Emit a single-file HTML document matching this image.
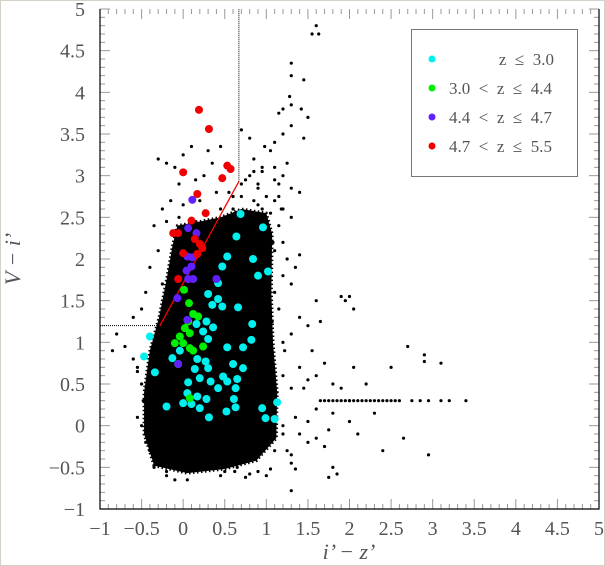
<!DOCTYPE html>
<html><head><meta charset="utf-8"><style>
html,body{margin:0;padding:0;background:#fff}
#wrap{width:603px;height:564px;border:1px solid #d4d0c8;position:relative;overflow:hidden;background:#fff}
text{font-family:"Liberation Serif",serif;fill:#555}
</style></head><body>
<div id="wrap">
<svg id="chart" width="605" height="566"></svg>
</div>
<script>
// ---- data ----
const blobOutline = [[-0.32,-0.4],[-0.42,-0.1],[-0.43,0.3],[-0.36,0.8],[-0.26,1.2],[-0.17,1.5],[-0.1,1.9],[0.0,2.25],[0.3,2.3],[0.5,2.42],[0.75,2.48],[0.98,2.4],[1.02,1.9],[0.99,1.3],[1.03,0.8],[1.06,0.3],[1.03,-0.1],[0.8,-0.35],[0.5,-0.45],[0.1,-0.5]];
const haloOutline = [[-0.35,-0.48],[-0.47,-0.1],[-0.47,0.4],[-0.4,0.9],[-0.29,1.3],[-0.2,1.75],[-0.13,2.15],[-0.07,2.4],[0.2,2.45],[0.45,2.5],[0.7,2.6],[1.0,2.55],[1.07,2.3],[1.06,1.6],[1.08,1.0],[1.13,0.4],[1.12,-0.15],[0.88,-0.42],[0.5,-0.52],[0.05,-0.57]];
const blackX = [1.6,1.55,1.63,1.3,1.3,1.45,1.28,1.3,1.2,1.15,1.42,1.5,1.45,1.3,1.2,1.1,0.98,1.05,1.25,0.95,0.85,1.1,0.9,1.15,0.75,1.3,1.4,1.2,1.1,1.3,0.85,0.7,0.7,0.8,-0.3,-0.2,-0.1,0.0,0.1,0.3,0.35,0.45,-0.05,0.15,0.25,-0.15,-0.25,0.0,0.4,0.45,-0.35,-0.2,0.6,0.55,-0.4,-0.45,-0.5,-0.6,-0.8,-0.85,-0.7,-0.6,-0.55,-0.5,-0.48,-0.55,-0.45,-0.4,-0.35,-0.2,-0.1,0.05,0.25,0.45,0.65,0.75,0.9,1.05,1.3,1.35,1.3,1.75,1.85,1.8,2.4,2.65,2.95,1.1,1.25,1.5,1.6,1.7,1.4,1.2,1.35,1.5,1.8,2.0,2.1,2.3,1.1,1.2,1.3,1.4,1.5,1.55,1.6,1.7,1.8,1.9,2.05,1.2,1.3,1.4,1.5,1.6,1.65,1.9,1.95,2.0,2.05,1.1,1.2,1.3,1.1,1.2,1.15,1.35,1.4,2.7,2.9,2.9,3.1,2.5,2.2,2.0,1.65,1.7,1.75,1.8,1.85,1.9,1.95,2.0,2.05,2.1,2.15,2.2,2.25,2.3,2.35,2.4,2.45,2.5,2.55,2.6,2.75,2.85,2.95,3.1,3.2,3.4,1.12,1.18,1.08,1.15,1.22,1.1,1.05,1.25,0.6,0.65,0.9,0.95,0.2,0.5,0.8,-0.3,-0.25,-0.45,-0.38,-0.5,-0.55,1.12,1.2,1.07,1.3,1.45,1.6,1.75,1.0,0.4,0.62,0.55,-0.1,-0.2,0.9,1.0,1.1,0.8,0.95,1.05,0.6,0.7,0.35,0.15,-0.05,-0.3,-0.25,0.85,1.15,1.2];
const blackY = [4.8,4.7,4.7,4.35,4.2,4.15,3.95,3.85,3.8,3.75,3.8,3.7,3.45,3.6,3.5,3.4,3.35,3.3,3.15,3.1,3.2,3.1,2.9,2.9,2.95,2.85,2.8,2.6,2.7,2.5,2.7,2.75,3.55,3.45,3.2,3.15,3.1,3.25,3.35,3.3,3.15,3.35,2.9,2.95,3.0,2.7,2.6,2.65,2.8,2.6,2.4,2.45,2.6,2.8,1.9,1.6,1.4,1.3,1.1,0.9,0.95,0.8,0.65,0.5,0.3,0.1,-0.1,-0.3,-0.5,-0.55,-0.65,-0.65,-0.45,-0.6,-0.5,-0.62,-0.55,-0.52,-0.45,-0.52,-0.78,-0.62,-0.58,-0.5,-0.3,-0.15,-0.35,-0.3,-0.3,-0.2,-0.15,-0.25,-0.1,0.0,0.1,0.05,0.15,0.05,-0.1,0.15,0.5,0.6,0.45,0.7,0.55,0.9,0.6,0.75,0.5,0.45,0.7,1.0,1.1,1.3,1.2,1.5,1.25,1.55,1.5,1.55,1.4,1.6,1.8,1.7,2.1,2.2,2.4,1.9,2.05,0.95,0.85,0.77,0.75,0.7,0.5,0.3,0.3,0.3,0.3,0.3,0.3,0.3,0.3,0.3,0.3,0.3,0.3,0.3,0.3,0.3,0.3,0.3,0.3,0.3,0.3,0.3,0.3,0.3,0.3,0.3,0.3,0.3,0.3,2.6,2.2,1.4,0.9,0.2,-0.2,2.0,1.2,2.55,2.65,2.6,2.7,-0.55,-0.58,-0.45,-0.4,-0.2,0.5,0.0,0.7,0.4,-0.1,1.25,-0.35,0.45,0.2,-0.05,-0.6,-0.5,-0.55,-0.45,-0.5,-0.6,2.85,2.75,2.95,3.0,3.05,2.55,2.75,2.9,2.45,2.45,2.5,2.1,1.7,3.05,2.75,3.0];
const cyanX = [0.69,0.96,0.64,0.53,0.84,0.47,1.02,0.9,0.42,0.3,0.42,0.47,0.35,0.66,0.83,0.28,0.36,0.16,0.24,-0.4,0.3,0.82,0.53,0.72,-0.04,-0.47,0.17,-0.13,0.6,0.27,0.72,0.14,0.3,-0.34,0.48,0.2,0.65,0.06,0.33,0.53,0.42,0.63,0.05,0.17,0.28,0.61,0.0,0.1,0.2,-0.2,0.52,0.63,0.31,0.95,1.13,0.99,1.1];
const cyanY = [2.54,2.38,2.27,2.03,2.0,1.91,1.85,1.8,1.71,1.58,1.52,1.43,1.45,1.42,1.22,1.25,1.18,1.22,1.13,1.07,1.04,1.03,0.94,0.94,0.9,0.83,0.8,0.81,0.74,0.77,0.69,0.68,0.69,0.64,0.59,0.57,0.56,0.52,0.53,0.53,0.45,0.45,0.39,0.35,0.32,0.32,0.27,0.26,0.21,0.23,0.17,0.22,0.1,0.21,0.28,0.09,0.08];
const greenX = [0.01,0.07,0.12,0.18,0.06,0.02,0.08,-0.04,-0.1,0.0,0.08,0.12,0.24,-0.06,0.08];
const greenY = [1.63,1.47,1.34,1.31,1.25,1.17,1.11,1.07,0.99,0.99,0.93,0.9,0.95,0.74,0.33];
const blueX = [0.11,0.06,0.16,0.05,0.11,0.1,0.04,0.12,0.06,0.4,-0.07,0.05,-0.06];
const blueY = [2.71,2.37,2.31,2.03,2.02,1.91,1.86,1.76,1.76,1.76,1.53,1.27,0.74];
const redX = [0.19,0.31,0.0,0.53,0.57,0.47,0.17,0.27,0.1,-0.12,-0.06,0.14,0.2,0.23,0.0,0.17,-0.06];
const redY = [3.79,3.56,3.04,3.12,3.08,2.97,2.78,2.55,2.46,2.31,2.31,2.24,2.18,2.13,2.07,2.06,1.76];
const cutX = [-1,-0.28,0.67,0.67];
const cutY = [1.2,1.2,2.93,5];
const xTicks = ["−1","−0.5","0","0.5","1","1.5","2","2.5","3","3.5","4","4.5","5"];
const yTicks = ["−1","−0.5","0","0.5","1","1.5","2","2.5","3","3.5","4","4.5","5"];
const legendLabels = ["z ≤ 3.0","3.0 < z ≤ 4.4","4.4 < z ≤ 4.7","4.7 < z ≤ 5.5"];

// ---- axes ----
const L=99,R=598,T=8,B=508;
const sx=v=>L+(v+1)/6*(R-L);
const sy=v=>B-(v+1)/6*(B-T);
const svg=document.getElementById('chart');
const NS='http://www.w3.org/2000/svg';
function mk(tag,attrs,parent){const e=document.createElementNS(NS,tag);for(const k in attrs)e.setAttribute(k,attrs[k]);(parent||svg).appendChild(e);return e;}

const tg=mk('g',{});


for(let i=0;i<=60;i++){
  const v=-1+i*0.1, major=i%5===0, len=major?10:5;
  const x=sx(v), y=sy(v);
  mk('line',{x1:x,y1:B,x2:x,y2:B-len,stroke:'#999','stroke-width':1},tg);
  mk('line',{x1:x,y1:T,x2:x,y2:T+len,stroke:'#999','stroke-width':1},tg);
  mk('line',{x1:L,y1:y,x2:L+len,y2:y,stroke:'#999','stroke-width':1},tg);
  mk('line',{x1:R,y1:y,x2:R-len,y2:y,stroke:'#999','stroke-width':1},tg);
}
const fr=mk('path',{d:`M${L},${T} L${L},${B} L${R},${B} L${R},${T}`,fill:'none',stroke:'#000','stroke-width':1.2});



xTicks.forEach((t,i)=>{
  const e=mk('text',{x:sx(-1+i*0.5),y:534,'text-anchor':'middle','font-size':20});
  e.textContent=t;
  
  
});
yTicks.forEach((t,i)=>{
  const e=mk('text',{x:84,y:sy(-1+i*0.5)+7,'text-anchor':'end','font-size':20});
  e.textContent=t;
  
  
});
const xt=mk('text',{x:348,y:558,'text-anchor':'middle','font-size':22,'font-style':'italic'});
xt.textContent="i’ − z’";


const yt=mk('text',{x:0,y:0,'text-anchor':'middle','font-size':22,'font-style':'italic',transform:'translate(19,258) rotate(-90)'});
yt.textContent="V − i’";



const hp=mk('polygon',{points:haloOutline.map(p=>sx(p[0])+','+sy(p[1])).join(' '),fill:'#000',stroke:'#000','stroke-width':3,'stroke-dasharray':'1.5,2.5'});


const bp=mk('polygon',{points:blobOutline.map(p=>sx(p[0])+','+sy(p[1])).join(' '),fill:'#000'});



blackX.forEach((x,i)=>{
  const c=mk('circle',{cx:sx(x),cy:sy(blackY[i]),r:1.6,fill:'#000'});
  
  
});

const cp=mk('polyline',{points:cutX.map((x,i)=>sx(x)+','+sy(cutY[i])).join(' '),fill:'none',stroke:'#000','stroke-width':1,'stroke-dasharray':'1,1'});


const cr=mk('line',{x1:sx(cutX[1]),y1:sy(cutY[1]),x2:sx(cutX[2]),y2:sy(cutY[2]),stroke:'#f00','stroke-width':1.3});



function series(xs,ys,color,name){
  xs.forEach((x,i)=>{
    const c=mk('circle',{cx:sx(x),cy:sy(ys[i]),r:4,fill:color});
    
    
  });
}
series(cyanX,cyanY,'#00f0f0','quasar-z-le-3');
series(greenX,greenY,'#00ee00','quasar-z-3-4.4');
series(blueX,blueY,'#6020ff','quasar-z-4.4-4.7');
series(redX,redY,'#f00000','quasar-z-4.7-5.5');

const lg=mk('g',{});


mk('rect',{x:410.5,y:28.5,width:166,height:147,fill:'#fff',stroke:'#777','stroke-width':1},lg);
const lc=['#00f0f0','#00ee00','#6020ff','#f00000'];
legendLabels.forEach((t,i)=>{
  const y=58+i*29;
  const c=mk('circle',{cx:431,cy:y,r:3.5,fill:lc[i]},lg);
  
  
  const e=mk('text',i===0?{x:553,y:y+6,'text-anchor':'end','font-size':17}:{x:448,y:y+6,'font-size':17},lg);
  e.textContent=t.replace(/ /g,'\u2002');
  
  
});
</script>
</body></html>
